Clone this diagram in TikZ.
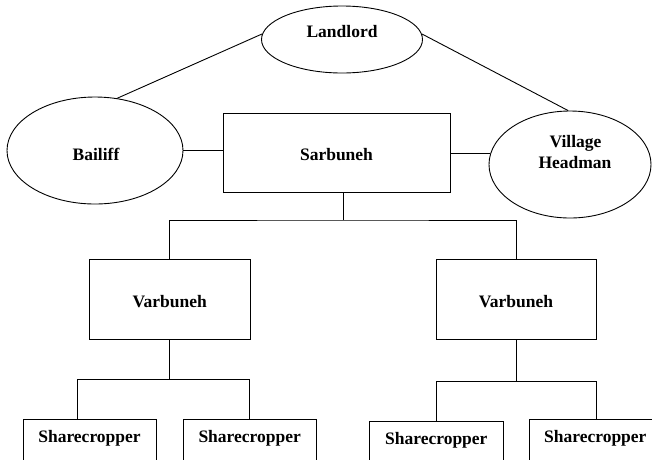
\documentclass[tikz,border=0pt]{standalone}
\usepackage{fontspec}
\setmainfont{Liberation Serif}
\usetikzlibrary{shapes.geometric}
\begin{document}
\begin{tikzpicture}[x=1pt,y=-1pt, line width=0.9pt,
  ell/.style={draw, ellipse, inner sep=0pt},
  box/.style={draw, rectangle, inner sep=0pt},
  lbl/.style={font=\fontsize{17.5}{21}\selectfont\bfseries, anchor=base, inner sep=0pt}]
\useasboundingbox (0,0) rectangle (652,459);
\clip (0,0) rectangle (652,459);
% ellipses
\node[ell, minimum width=161, minimum height=67] (landlord) at (342,39.5) {};
\node[ell, minimum width=176, minimum height=107] (bailiff) at (95,150.5) {};
\node[ell, minimum width=162, minimum height=107] (village) at (570,164.5) {};
% boxes
\node[box, minimum width=227, minimum height=79] (sarb) at (336.5,152.5) {};
\node[box, minimum width=161, minimum height=80] (vl) at (169.5,299) {};
\node[box, minimum width=160, minimum height=80] (vr) at (516,299) {};
\node[box, minimum width=133, minimum height=60, anchor=north west] (s1) at (23,419) {};
\node[box, minimum width=133, minimum height=60, anchor=north west] (s2) at (183,419) {};
\node[box, minimum width=134, minimum height=60, anchor=north west] (s3) at (369,421) {};
\node[box, minimum width=133, minimum height=60, anchor=north west] (s4) at (529,419) {};
% labels
\node[lbl] (tland) at (342,37.3) {Landlord};
\node[lbl] (tbail) at (96,160) {Bailiff};
\node[lbl] (tvil1) at (575.5,147.3) {Village};
\node[lbl] (tvil2) at (575,168.3) {Headman};
\node[lbl] (tsarb) at (336.5,160.5) {Sarbuneh};
\node[lbl] (tvl) at (169.7,307.3) {Varbuneh};
\node[lbl] (tvr) at (516,307.3) {Varbuneh};
\node[lbl] (ts1) at (89.5,442.7) {Sharecropper};
\node[lbl] (ts2) at (249.7,442.7) {Sharecropper};
\node[lbl] (ts3) at (436.3,444) {Sharecropper};
\node[lbl] (ts4) at (595.3,442.7) {Sharecropper};
% connectors
\draw (landlord.176) -- (bailiff.67);
\draw (landlord.4) -- (village.92);
\draw (bailiff.east) -- (bailiff.east -| sarb.west);
\draw (sarb.east |- village.172) -- (village.172);
\coordinate (t1) at (343,220);
\draw (sarb.south -| t1) -- (t1);
\draw (vl.north) |- (t1) -| (vr.north);
\coordinate (t2) at (169,379);
\coordinate (d1) at (77,379);
\coordinate (d2) at (249,379);
\draw (vl.south -| t2) -- (t2);
\draw (d1 |- s1.north) -- (d1) -- (d2) -- (d2 |- s2.north);
\coordinate (t3) at (516,381);
\coordinate (d3) at (436,381);
\coordinate (d4) at (596,381);
\draw (vr.south -| t3) -- (t3);
\draw (d3 |- s3.north) -- (d3) -- (d4) -- (d4 |- s4.north);
\end{tikzpicture}
\end{document}
